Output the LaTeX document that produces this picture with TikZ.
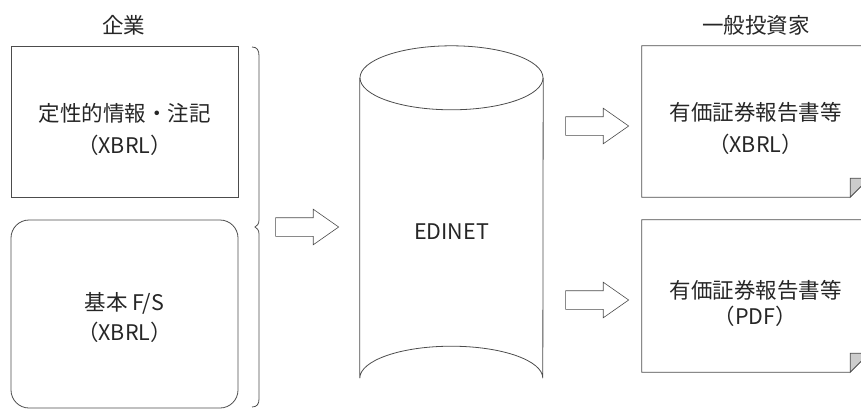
\documentclass[tikz,border=0pt]{standalone}
\usepackage{fontspec}
\setmainfont{Noto Sans CJK JP}
\usepackage{tikz}
\usetikzlibrary{arrows.meta,positioning,calc,shapes.geometric,shapes.arrows}

\begin{document}
\begin{tikzpicture}[x=1pt,y=-1pt,font=\fontsize{21.5}{26}\selectfont,
  ln/.style={draw=black!70,line width=0.8pt},
  box/.style={ln,minimum width=227pt,minimum height=151pt,inner sep=0pt},
  rbox/.style={box,rounded corners=18pt,minimum height=188pt},
  txt/.style={text=black!85,align=center,inner sep=0pt},
  hdr/.style={text=black!85,inner sep=0pt},
  blk/.style={single arrow,ln,line width=0.6pt,fill=white,minimum height=63pt,minimum width=35pt,
    single arrow head extend=8.5pt,single arrow tip angle=70,inner xsep=0pt,inner ysep=9pt},
  area/.style={minimum width=#1,inner sep=0pt}]

  \useasboundingbox (0,0) rectangle (861,410);

  % company side
  \node[hdr] (corp) at (123.5,25) {企業};
  \node[box] (qual) at (124.5,121.5) {};
  \node[txt] (qualtxt) at (124.5,129) {定性的情報・注記\\[6pt]（XBRL）};
  \node[rbox] (fs) at (124.5,314) {};
  \node[txt] (fstxt) at (124.5,317) {基本 F/S\\[4pt]（XBRL）};
  % brace round both boxes
  \draw[ln] (252,47) .. controls (257,47) and (259,50) .. (259,56) -- (259,220)
    .. controls (259,224) and (257,226) .. (255,227) .. controls (257,228) and (259,230) .. (259,234)
    -- (259,399) .. controls (259,404) and (257,407) .. (252,407);

  % EDINET (cylinder drawn round an empty node)
  \node[area=183pt,minimum height=364pt] (edinet) at (451.5,228) {};
  \draw[ln] ($(edinet.north)+(0,32)$) ellipse [x radius=91.5, y radius=32];
  \draw[ln] ($(edinet.north west)+(0,32)$) -- ($(edinet.south west)+(0,-32)$)
    arc [start angle=180, end angle=360, x radius=91.5, y radius=32] -- ($(edinet.north east)+(0,32)$);
  \node[txt] (edinettxt) at (451.5,232) {EDINET};

  % block arrows
  \node[blk] (toed) at (300.5,227) {};
  \node[blk] (toxbrl) at (590.5,126) {};
  \node[blk] (topdf) at (590.5,300) {};

  % investor side
  \node[hdr] (inv) at (756,25) {一般投資家};
  \foreach \id/\y/\h/\lbl in {xbrl/121.5/151/{有価証券報告書等\\[6pt]（XBRL）}, pdf/296/152/{有価証券報告書等\\[0pt]（PDF）}}{
    \node[area=227pt,minimum height=\h pt] (\id) at (755.5,\y) {};
    \draw[ln] (\id.north west) -- (\id.north east) -- ($(\id.south east)+(0,-19)$)
      -- ($(\id.south east)+(-19,0)$) -- (\id.south west) -- cycle;
    \filldraw[ln,fill=black!20] ($(\id.south east)+(-19,0)$) -- ($(\id.south east)+(-19,-19)$)
      -- ($(\id.south east)+(0,-19)$) -- cycle;
    \node[txt] (\id txt) at ($(\id)+(0,7)$) {\lbl};
  }
\end{tikzpicture}
\end{document}
